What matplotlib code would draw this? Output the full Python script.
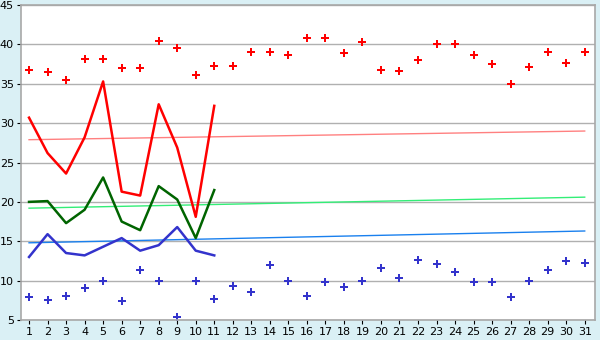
import matplotlib
matplotlib.use("Agg")
import matplotlib.pyplot as plt

days = list(range(1, 32))

high_pts = [36.8, 36.5, 35.5, 38.2, 38.2, 37.0, 37.0, 40.4, 39.6, 36.1,
            37.3, 37.3, 39.0, 39.0, 38.7, 40.8, 40.8, 38.9, 40.3, 36.8,
            36.6, 38.0, 40.0, 40.0, 38.7, 37.5, 35.0, 37.1, 39.0, 37.6, 39.0]
low_pts = [7.9, 7.5, 8.0, 9.0, 10.0, 7.4, 11.3, 10.0, 5.4, 10.0,
           7.6, 9.3, 8.5, 12.0, 10.0, 8.0, 9.8, 9.2, 10.0, 11.6,
           10.3, 12.6, 12.1, 11.1, 9.8, 9.8, 7.9, 10.0, 11.4, 12.5, 12.2]

line_days = list(range(1, 12))
red_line = [30.7, 26.2, 23.6, 28.2, 35.3, 21.3, 20.8, 32.4, 26.9, 18.1, 32.2]
green_line = [20.0, 20.1, 17.3, 19.0, 23.1, 17.5, 16.4, 22.0, 20.3, 15.4, 21.5]
blue_line = [13.0, 15.9, 13.5, 13.2, 14.3, 15.4, 13.8, 14.5, 16.8, 13.8, 13.2]

# trend lines: value at day 1 and day 31
trend_days = [1, 31]
red_trend = [27.9, 29.0]
green_trend = [19.2, 20.6]
blue_trend = [14.8, 16.3]

fig = plt.figure(figsize=(6, 3.4), dpi=100, facecolor="#daf0f5")
ax = fig.add_axes([0.0345, 0.059, 0.957, 0.926])
ax.set_facecolor("white")

ax.plot(trend_days, red_trend, color="#ff8080", lw=1)
ax.plot(trend_days, green_trend, color="#33ee77", lw=1)
ax.plot(trend_days, blue_trend, color="#1a80ee", lw=1)

ax.plot(line_days, red_line, color="#ff0000", lw=1.8)
ax.plot(line_days, green_line, color="#006400", lw=1.8)
ax.plot(line_days, blue_line, color="#3333cc", lw=1.8)

ax.plot(days, high_pts, ls="none", marker="P", ms=6, color="#ff0000", mew=0)
ax.plot(days, low_pts, ls="none", marker="P", ms=6, color="#3333cc", mew=0)

ax.set_xlim(0.55, 31.55)
ax.set_ylim(5, 45)
ax.set_xticks(days)
ax.set_yticks(range(5, 50, 5))
ax.yaxis.grid(True, color="#b0b0b0", lw=1)
ax.set_axisbelow(True)
for s in ax.spines.values():
    s.set_color("#a8a8a8")
    s.set_linewidth(1.2)
ax.tick_params(axis="both", labelsize=8, length=3, color="black", pad=2)

fig.savefig("out.png", dpi=100, facecolor=fig.get_facecolor())
